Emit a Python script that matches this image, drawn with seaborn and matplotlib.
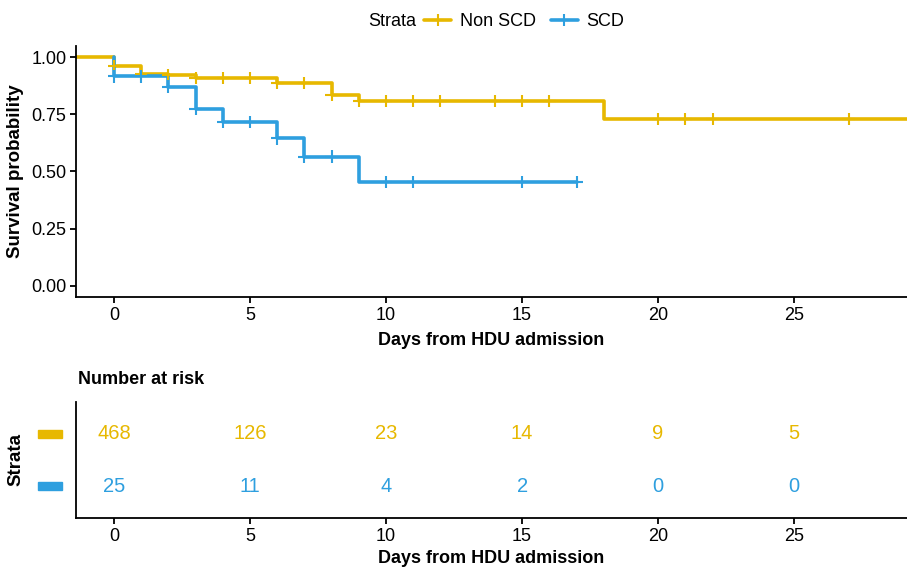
import numpy as np
import pandas as pd
import seaborn as sns
import matplotlib
matplotlib.use("Agg")
from matplotlib import pyplot as plt
from matplotlib.lines import Line2D
from matplotlib.patches import Rectangle
import matplotlib.transforms as mtransforms

# km curves (time, survival after the step)
strata = ["Non SCD", "SCD"]
colors = ["#E7B800", "#2E9FDF"]

nonscd_time = [-2, 0, 1, 2, 3, 6, 8, 9, 18, 30]
nonscd_surv = [1.0, 0.961, 0.929, 0.921, 0.911, 0.888, 0.834, 0.809, 0.729, 0.729]
scd_time = [0, 0, 2, 3, 4, 6, 7, 9, 17]
scd_surv = [1.0, 0.917, 0.872, 0.776, 0.718, 0.645, 0.565, 0.453, 0.453]

# censoring times
nonscd_cens = [0, 1, 2, 3, 4, 5, 6, 7, 8, 9, 10, 11, 12, 14, 15, 16, 20, 21, 22, 27]
scd_cens = [0, 1, 2, 3, 4, 5, 6, 7, 8, 10, 11, 15, 17]

# number at risk
risk_times = [0, 5, 10, 15, 20, 25]
risk_nonscd = [468, 126, 23, 14, 9, 5]
risk_scd = [25, 11, 4, 2, 0, 0]

x_ticks = [0, 5, 10, 15, 20, 25]
y_ticks = [0.0, 0.25, 0.5, 0.75, 1.0]
y_ticklabels = ["0.00", "0.25", "0.50", "0.75", "1.00"]


def step_at(times, surv, t):
    s = surv[0]
    for tt, ss in zip(times, surv):
        if tt <= t:
            s = ss
    return s


curves = pd.concat([
    pd.DataFrame({"time": nonscd_time, "surv": nonscd_surv, "strata": "Non SCD"}),
    pd.DataFrame({"time": scd_time, "surv": scd_surv, "strata": "SCD"}),
], ignore_index=True)

cens = pd.concat([
    pd.DataFrame({"time": nonscd_cens,
                  "surv": [step_at(nonscd_time, nonscd_surv, t) for t in nonscd_cens],
                  "strata": "Non SCD"}),
    pd.DataFrame({"time": scd_cens,
                  "surv": [step_at(scd_time, scd_surv, t) for t in scd_cens],
                  "strata": "SCD"}),
], ignore_index=True)

sns.set_style("ticks")
plt.rcParams["font.family"] = ["Liberation Sans", "DejaVu Sans"]
plt.rcParams["font.size"] = 13
plt.rcParams["text.color"] = "black"
plt.rcParams["axes.labelcolor"] = "black"
plt.rcParams["axes.edgecolor"] = "black"
plt.rcParams["axes.linewidth"] = 1.3
plt.rcParams["xtick.major.width"] = 1.3
plt.rcParams["ytick.major.width"] = 1.3
plt.rcParams["xtick.major.size"] = 4
plt.rcParams["ytick.major.size"] = 4
plt.rcParams["xtick.color"] = "black"
plt.rcParams["ytick.color"] = "black"
plt.rcParams["xtick.labelcolor"] = "black"
plt.rcParams["ytick.labelcolor"] = "black"

W, H = 907, 568
fig = plt.figure(figsize=(W / 100, H / 100), dpi=100)
ax = fig.add_axes([76 / W, (H - 297) / H, 1 - 76 / W, (297 - 46) / H])
ax2 = fig.add_axes([76 / W, (H - 518) / H, 1 - 76 / W, (518 - 402) / H])

pal = dict(zip(strata, colors))
sns.lineplot(data=curves, x="time", y="surv", hue="strata", palette=pal,
             estimator=None, sort=False, drawstyle="steps-post",
             linewidth=2.6, legend=False, ax=ax)
sns.scatterplot(data=cens, x="time", y="surv", hue="strata", palette=pal,
                marker="+", s=80, linewidth=1.5, legend=False, ax=ax, zorder=3)

xlim = (-1.4, 29.15)
ax.set_xlim(xlim)
ax.set_ylim(-0.05, 1.05)
ax.set_xticks(x_ticks)
ax.set_yticks(y_ticks)
ax.set_yticklabels(y_ticklabels)
ax.tick_params(labelsize=13, pad=3)
ax.set_xlabel("Days from HDU admission", fontsize=13, fontweight="bold", labelpad=6)
ax.set_ylabel("Survival probability", fontsize=13.5, fontweight="bold")
ax.yaxis.set_label_coords(-0.062, 0.5)
sns.despine(ax=ax)

# legend across the top
fig.text(368 / W, 1 - 22 / H, "Strata", ha="left", va="center", fontsize=13)
handles = [Line2D([], [], color=c, lw=2.6, marker="+", markersize=9, markeredgewidth=1.5)
           for c in colors]
fig.legend(handles, strata, loc="center left", bbox_to_anchor=(424 / W, 1 - 22 / H),
           ncol=2, frameon=False, fontsize=13, handlelength=1.5, handletextpad=0.5,
           columnspacing=0.8, borderpad=0, borderaxespad=0)

# risk table
for row, (vals, c) in enumerate(zip([risk_nonscd, risk_scd], colors), start=1):
    for t, v in zip(risk_times, vals):
        ax2.text(t, row, str(v), color=c, ha="center", va="center", fontsize=14.5)
ax2.set_xlim(xlim)
ax2.set_ylim(2.6, 0.4)
ax2.set_xticks(x_ticks)
ax2.set_yticks([])
ax2.tick_params(labelsize=13, pad=3)
ax2.set_xlabel("Days from HDU admission", fontsize=13, fontweight="bold", labelpad=4)
ax2.set_ylabel("Strata", fontsize=13.5, fontweight="bold")
ax2.yaxis.set_label_coords(-0.062, 0.5)
sns.despine(ax=ax2)

trans = mtransforms.blended_transform_factory(ax2.transAxes, ax2.transData)
for row, c in enumerate(colors, start=1):
    ax2.add_patch(Rectangle((-0.0457, row - 0.075), 0.029, 0.15, transform=trans,
                            color=c, clip_on=False))

fig.text(78 / W, 1 - 380 / H, "Number at risk", ha="left", va="center",
         fontsize=13, fontweight="bold")

fig.savefig("out.png", dpi=100)
